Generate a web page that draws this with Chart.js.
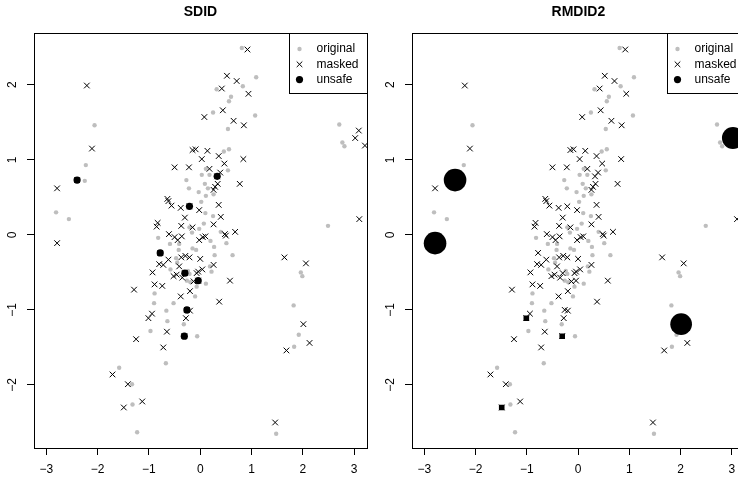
<!DOCTYPE html>
<html>
<head>
<meta charset="utf-8">
<script src="https://cdn.jsdelivr.net/npm/chart.js@4.4.1/dist/chart.umd.min.js"></script>
<style>
  html, body { margin: 0; padding: 0; background: #fff; overflow: hidden; }
  #wrap { width: 738px; height: 482px; overflow: hidden; display: flex; }
  .panel { position: relative; flex: 0 0 378px; width: 378px; height: 482px; }
</style>
</head>
<body>
<div id="wrap">
  <div class="panel"><canvas id="sdid"></canvas></div>
  <div class="panel"><canvas id="rmdid"></canvas></div>
</div>
<script>
// tick values on both panels
const xTicks = [-3, -2, -1, 0, 1, 2, 3];
const yTicks = [-2, -1, 0, 1, 2];
const legendLabels = ['original', 'masked', 'unsafe'];

// original data (grey dots)
const origX = [0.81, 1.09, 0.83, 0.32, 0.60, 0.56, 0.25, 1.07, 0.54, 0.46, 0.56,
  -2.06, -2.23, -2.25, -2.81, -2.56,
  2.71, 2.77, 2.81, 2.49, 1.96, 1.99, 1.82, 1.92, 1.83, 1.48,
  0.54, 0.11, 0.03, -0.27, 0.09, -0.22, -0.03, 0.15, 0.11, 0.26, 0.02, 0.10, 0.25, 0.07, -0.16, 0.40, -0.82, 0.20, 0.51,
  -0.21, -0.02, -0.59, -0.41,
  0.27, -0.15, -0.08, 0.28, 0.63, -0.58, 0.19, 0.22, -0.89, -0.10, -0.52, -0.90, -0.66, -0.64, -0.32, -0.97, -0.06, -0.67,
  -0.47, -0.45, -0.24, -0.21, -0.26, -0.19,
  -1.58, -1.33, -1.32, -1.23,
  0.18, -0.42, 0.11, -0.07];
const origY = [2.49, 2.10, 1.98, 1.94, 1.84, 1.78, 1.63, 1.59, 1.41, 1.11, 1.14,
  1.46, 0.93, 0.72, 0.30, 0.21,
  1.47, 1.23, 1.18, 0.12, -0.50, -0.55, -0.94, -1.33, -1.49, -2.65,
  0.86, 0.88, 0.80, 0.73, 0.68, 0.62, 0.57, 0.62, 0.52, 0.54, 0.44, 0.29, 0.25, 0.15, 0.03, 0.04, -0.04, -0.08, -0.11,
  0.10, 0.08, -0.12, -0.12,
  -0.16, -0.18, -0.20, -0.27, -0.27, -0.46, -0.42, -0.49, -0.78, -0.82, -0.91, -0.91, -1.01, -1.15, -1.19, -1.28, -1.35, -1.71,
  -0.31, -0.37, -0.48, -0.52, -0.61, -0.63,
  -1.77, -1.99, -2.26, -2.63,
  0.80, -0.20, -0.65, -0.69];

// masked data (crosses), same in both panels
const maskX = [0.92, 0.52, 0.71, 0.42, 0.94, 0.44, 0.08, 0.65, 0.85,
  -2.21, -2.11, -2.79, -2.79, -2.40,
  3.09, 3.02, 3.21, 3.10, 1.64, 2.06, 2.01, 2.13, 1.68, 1.46,
  -0.15, -0.09, 0.14, 0.03, 0.36, 0.47, 0.84, -0.50, -0.22, 0.18, 0.39, 0.34, 0.29, 0.26, 0.77, -0.64, -0.62, -0.56, -0.38,
  -0.02, 0.36, -0.30, 0.40, -0.83, -0.85, -0.37, -0.15, 0.26, 0.48, 0.50, 0.68, -0.61, -0.50, -0.36, -0.44, -0.02, 0.05, 0.10,
  0.33, -0.21,
  -0.37, -0.29, -0.21, 0.00, -0.62, -0.80, -0.72, -0.41, 0.26, 0.04, -0.04, -0.07, -0.93, -0.46, -0.52, -0.35, -0.13, 0.58,
  -0.89, -0.74, -1.29, -0.20, -0.38, 0.37, -0.20, -0.94, -1.01, -0.28, -0.65, -1.25, -0.72,
  -0.78, -0.30, -0.04, -0.26, -0.31,
  -1.71, -1.41, -1.49, -1.13];
const maskY = [2.47, 2.12, 2.05, 1.95, 1.88, 1.66, 1.57, 1.52, 1.46,
  1.99, 1.15, 0.62, -0.11, 0.73,
  1.39, 1.29, 1.19, 0.21, -0.30, -0.38, -1.19, -1.44, -1.54, -2.50,
  1.13, 1.14, 1.12, 1.01, 1.05, 0.95, 1.01, 0.90, 0.90, 0.88, 0.83, 0.68, 0.64, 0.60, 0.68, 0.48, 0.45, 0.39, 0.36,
  0.33, 0.40, 0.23, 0.24, 0.16, 0.11, 0.12, 0.10, 0.14, 0.01, -0.01, 0.04, 0.01, -0.03, -0.02, -0.07, -0.07, -0.03, -0.02,
  0.78, 0.38,
  -0.30, -0.28, -0.30, -0.32, -0.33, -0.39, -0.40, -0.42, -0.40, -0.46, -0.49, -0.51, -0.50, -0.53, -0.55, -0.57, -0.62, -0.61,
  -0.66, -0.68, -0.73, -0.75, -0.82, -0.89, -1.01, -1.05, -1.11, -1.11, -1.29, -1.39, -1.50,
  -0.24, -0.51, -0.61, -1.00, -1.35,
  -1.86, -1.99, -2.30, -2.22];

// unsafe records
const sdidUnsafeX = [-2.40, 0.33, -0.21, -0.78, -0.30, -0.04, -0.26, -0.31];
const sdidUnsafeY = [0.73, 0.78, 0.38, -0.24, -0.51, -0.61, -1.00, -1.35];
const rmdidUnsafeX = [-2.40, -2.79, 3.02, 2.01, -1.01, -0.31, -1.49];
const rmdidUnsafeY = [0.73, -0.11, 1.29, -1.19, -1.11, -1.35, -2.30];
const rmdidRisk = [1.0, 1.0, 0.97, 0.96, 0.35, 0.35, 0.35];

Chart.defaults.font.family = '"Liberation Sans", Arial, Helvetica, sans-serif';
Chart.defaults.font.size = 12;
Chart.defaults.color = '#000';

const pts = (xs, ys) => xs.map((x, i) => ({ x: x, y: ys[i] }));
const fmt = v => (v < 0 ? '\u2212' + Math.abs(v) : String(v));

// R style box round the plot plus the legend in the top right corner
const plotFrame = {
  id: 'plotFrame',
  afterDatasetsDraw(chart) {
    const { ctx, chartArea: a } = chart;
    ctx.save();
    ctx.strokeStyle = '#000';
    ctx.lineWidth = 1;
    ctx.strokeRect(Math.round(a.left) + 0.5, Math.round(a.top) + 0.5,
      Math.round(a.right - a.left), Math.round(a.bottom - a.top));

    const w = 78, h = 60;
    const lx = Math.round(a.right) - w, ly = Math.round(a.top);
    ctx.fillStyle = '#fff';
    ctx.fillRect(lx, ly, w, h);
    ctx.strokeRect(lx + 0.5, ly + 0.5, w, h);

    ctx.font = '12px "Liberation Sans", Arial, sans-serif';
    ctx.textBaseline = 'middle';
    ctx.textAlign = 'left';
    legendLabels.forEach((lab, i) => {
      const sx = lx + 10.5, sy = ly + 16 + i * 15.3;
      if (i === 0) {
        ctx.fillStyle = '#bebebe';
        ctx.beginPath(); ctx.arc(sx, sy, 2.2, 0, Math.PI * 2); ctx.fill();
      } else if (i === 1) {
        ctx.beginPath();
        ctx.moveTo(sx - 2.8, sy - 2.8); ctx.lineTo(sx + 2.8, sy + 2.8);
        ctx.moveTo(sx - 2.8, sy + 2.8); ctx.lineTo(sx + 2.8, sy - 2.8);
        ctx.stroke();
      } else {
        ctx.fillStyle = '#000';
        ctx.beginPath(); ctx.arc(sx, sy, 3.6, 0, Math.PI * 2); ctx.fill();
      }
      ctx.fillStyle = '#000';
      ctx.fillText(lab, lx + 27.5, sy);
    });
    ctx.restore();
  }
};

function axis(ticks, min, max, isY) {
  return {
    type: 'linear',
    min: min,
    max: max,
    afterBuildTicks: s => { s.ticks = ticks.map(v => ({ value: v })); },
    afterFit: s => { if (isY) s.width = 34; else s.height = 34; },
    border: { display: false },
    grid: { drawOnChartArea: false, drawTicks: true, tickLength: 7, color: '#000', lineWidth: 1 },
    ticks: isY
      ? { padding: 7.5, minRotation: 90, maxRotation: 90, crossAlign: 'center', autoSkip: false, callback: fmt }
      : { padding: 7, minRotation: 0, maxRotation: 0, autoSkip: false, callback: fmt }
  };
}

function makeChart(id, title, unsafeData, unsafeRadius, unsafeStyle) {
  return new Chart(document.getElementById(id), {
    type: 'scatter',
    data: {
      datasets: [
        {
          label: 'unsafe',
          data: unsafeData,
          order: 0,
          pointStyle: unsafeStyle,
          pointRadius: unsafeRadius,
          pointBackgroundColor: '#000',
          pointBorderWidth: 0
        },
        {
          label: 'masked',
          data: pts(maskX, maskY),
          order: 1,
          pointStyle: 'crossRot',
          pointRadius: 4,
          pointBorderColor: '#000',
          pointBorderWidth: 1
        },
        {
          label: 'original',
          data: pts(origX, origY),
          order: 2,
          pointRadius: 2.2,
          pointBackgroundColor: '#bebebe',
          pointBorderWidth: 0
        }
      ]
    },
    options: {
      responsive: true,
      maintainAspectRatio: false,
      animation: false,
      events: [],
      layout: { padding: { left: 0, right: 11, top: 0, bottom: 0 } },
      scales: {
        x: axis(xTicks, -3.24, 3.25, false),
        y: axis(yTicks, -2.84, 2.69, true)
      },
      plugins: {
        legend: { display: false },
        tooltip: { enabled: false },
        title: {
          display: true,
          text: title,
          fullSize: false,
          color: '#000',
          font: { size: 14, weight: 'bold' },
          padding: { top: 4, bottom: 12.2 }
        }
      }
    },
    plugins: [plotFrame]
  });
}

makeChart('sdid', 'SDID', pts(sdidUnsafeX, sdidUnsafeY), 3.6, 'circle');

const rmdidPoints = pts(rmdidUnsafeX, rmdidUnsafeY).map((p, i) => ({ x: p.x, y: p.y, risk: rmdidRisk[i] }));
makeChart('rmdid', 'RMDID2', rmdidPoints,
  ctx => (ctx.raw ? ctx.raw.risk * 11.3 : 3),
  ctx => (ctx.raw && ctx.raw.risk < 0.5 ? 'rect' : 'circle'));
</script>
</body>
</html>
